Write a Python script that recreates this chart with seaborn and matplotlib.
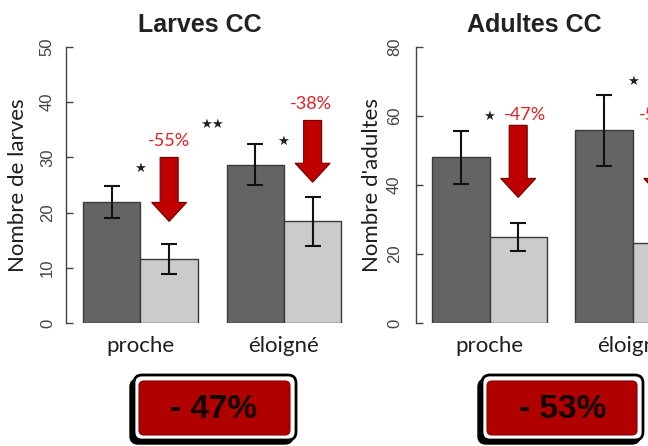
import matplotlib
matplotlib.use("Agg")
import matplotlib.pyplot as plt
import seaborn as sns
import pandas as pd
from matplotlib.patches import Polygon, FancyBboxPatch
from matplotlib.transforms import IdentityTransform

# ---------------- data ----------------
sites = ["proche", "éloigné"]
groups = ["témoin", "traité"]

larves_temoin = [22.0, 28.7]
larves_temoin_lo = [19.0, 25.0]
larves_temoin_hi = [24.9, 32.4]
larves_traite = [11.6, 18.5]
larves_traite_lo = [8.9, 14.0]
larves_traite_hi = [14.4, 22.8]

adultes_temoin = [48.0, 55.9]
adultes_temoin_lo = [40.4, 45.4]
adultes_temoin_hi = [55.6, 66.0]
adultes_traite = [25.0, 23.2]
adultes_traite_lo = [21.0, 18.5]
adultes_traite_hi = [29.0, 28.0]

larves_pct = ["-55%", "-38%"]
adultes_pct = ["-47%", "-58%"]
larves_arrow_top = [30.0, 36.7]
larves_arrow_tip = [18.4, 25.5]
adultes_arrow_top = [57.3, 57.3]
adultes_arrow_tip = [36.4, 36.4]
badges = ["- 47%", "- 53%"]

# ---------------- style ----------------
sns.set_theme(style="white")
plt.rcParams["font.family"] = ["Liberation Sans", "DejaVu Sans"]

DARK = "#646464"
LIGHT = "#cbcbcb"
EDGE = "#3a3a3a"
RED_TXT = "#e31e24"
ARROW_RED = "#c00000"
BOX_RED = "#b00000"

W, H = 648, 446
fig = plt.figure(figsize=(W / 100, H / 100), dpi=100)
fig.patch.set_facecolor("white")


def fx(px):
    return px / W


def fy(py):
    return 1 - py / H


ax1 = fig.add_axes([fx(66), fy(323), fx(360) - fx(66), fy(47) - fy(323)])
ax2 = fig.add_axes([fx(416), fy(323), fx(720) - fx(416), fy(47) - fy(323)])


def panel(ax, tem, tem_lo, tem_hi, tra, tra_lo, tra_hi, ymax, step,
          ylabel, title, title_x, label_x, xlim, tick_pad):
    df = pd.DataFrame({
        "site": sites * 2,
        "groupe": [groups[0]] * 2 + [groups[1]] * 2,
        "valeur": tem + tra,
    })
    sns.barplot(data=df, x="site", y="valeur", hue="groupe", order=sites,
                hue_order=groups, palette=[DARK, LIGHT], errorbar=None,
                width=0.8, edgecolor=EDGE, linewidth=1.0, legend=False, ax=ax)
    for cont, vals, lo, hi in zip(ax.containers, [tem, tra], [tem_lo, tra_lo], [tem_hi, tra_hi]):
        for bar, v, l, h in zip(cont.patches, vals, lo, hi):
            xc = bar.get_x() + bar.get_width() / 2
            ax.errorbar(xc, v, yerr=[[v - l], [h - v]], fmt="none", ecolor="#111111",
                        elinewidth=1.5, capsize=6, capthick=1.5, zorder=5)
    ax.set_xlim(*xlim)
    ax.set_ylim(0, ymax)
    ax.set_yticks(list(range(0, ymax + 1, step)))
    for s in ["top", "right", "bottom"]:
        ax.spines[s].set_visible(False)
    ax.spines["left"].set_bounds(0, ymax)
    ax.spines["left"].set_color("#444444")
    ax.spines["left"].set_linewidth(1.0)
    ax.tick_params(axis="y", direction="in", length=5, width=1, color="#444444",
                   labelsize=12, labelcolor="#444444", pad=tick_pad, left=True)
    for lab in ax.get_yticklabels():
        lab.set_rotation(90)
        lab.set_va("center")
    ax.tick_params(axis="x", length=0, pad=9, labelsize=16, labelcolor="#1e1e1e")
    for lab in ax.get_xticklabels():
        lab.set_fontfamily(["Lato", "DejaVu Sans"])
    ax.set_xlabel("")
    ax.set_ylabel(ylabel, fontsize=16, color="#1e1e1e", family=["Lato", "DejaVu Sans"], va="center")
    ax.yaxis.set_label_coords(label_x, 0.5)
    ax.set_title(title, fontsize=18, fontweight="bold", color="#222222", x=title_x, pad=11)
    ax.patch.set_visible(False)


panel(ax1, larves_temoin, larves_temoin_lo, larves_temoin_hi,
      larves_traite, larves_traite_lo, larves_traite_hi, 50, 10,
      "Nombre de larves", "Larves CC", 0.456, -0.163, (-0.519, 1.53), 8)
panel(ax2, adultes_temoin, adultes_temoin_lo, adultes_temoin_hi,
      adultes_traite, adultes_traite_lo, adultes_traite_hi, 80, 20,
      "Nombre d'adultes", "Adultes CC", 0.388, -0.145, (-0.514, 1.61), 10)


def down_arrow(ax, x, y_top, y_tip, shaft=18, head=35, head_len=19):
    t = ax.transData
    cx, ty = t.transform((x, y_top))
    _, py = t.transform((x, y_tip))
    hs = py + head_len
    pts = [(cx - shaft / 2, ty), (cx + shaft / 2, ty), (cx + shaft / 2, hs),
           (cx + head / 2, hs), (cx, py), (cx - head / 2, hs), (cx - shaft / 2, hs)]
    pts = fig.transFigure.inverted().transform(pts)
    fig.add_artist(Polygon(pts, closed=True, transform=fig.transFigure,
                           facecolor=ARROW_RED, edgecolor="#700000", linewidth=0.8, zorder=6))


STAR = dict(fontsize=9.5, color="#222222", ha="center", va="center",
            family=["DejaVu Sans"], clip_on=False, zorder=7)
PCT = dict(fontsize=13, color=RED_TXT, ha="center", va="center",
           family=["Lato", "DejaVu Sans"], clip_on=False, zorder=7)

# larves annotations
tr1 = [p.get_x() + p.get_width() / 2 for p in ax1.containers[1].patches]
for i in range(2):
    down_arrow(ax1, tr1[i], larves_arrow_top[i], larves_arrow_tip[i])
ax1.text(tr1[0], 32.9, larves_pct[0], **PCT)
ax1.text(tr1[1] - 0.01, 39.6, larves_pct[1], **PCT)
ax1.text(0.0, 28.0, "★", **STAR)
ax1.text(0.5, 36.0, "★★", **STAR)
ax1.text(0.995, 32.9, "★", **STAR)

# adultes annotations
tr2 = [p.get_x() + p.get_width() / 2 for p in ax2.containers[1].patches]
for i in range(2):
    down_arrow(ax2, tr2[i], adultes_arrow_top[i], adultes_arrow_tip[i])
ax2.text(tr2[0] + 0.045, 60.2, adultes_pct[0], **PCT)
ax2.text(tr2[1] - 0.01, 60.2, adultes_pct[1], **PCT)
ax2.text(0.0, 60.0, "★", **STAR)
ax2.text(1.0, 70.1, "★", **STAR)


# bottom badges (pixel coordinates, y measured from top)
def badge(x0, x1, text, tcx, tcy):
    ident = IdentityTransform()
    y0, y1 = 375, 440
    fig.add_artist(FancyBboxPatch((x0 - 4, H - (y1 + 4)), (x1 - 3) - (x0 - 4), (y1 - y0),
                                  boxstyle="round,pad=0,rounding_size=8", transform=ident,
                                  facecolor="black", edgecolor="black", linewidth=1, zorder=8))
    fig.add_artist(FancyBboxPatch((x0, H - y1), x1 - x0, y1 - y0,
                                  boxstyle="round,pad=0,rounding_size=8", transform=ident,
                                  facecolor="white", edgecolor="black", linewidth=2, zorder=9))
    fig.add_artist(FancyBboxPatch((x0 + 5, H - 435), (x1 - 6) - (x0 + 5), 435 - 381,
                                  boxstyle="round,pad=0,rounding_size=5", transform=ident,
                                  facecolor=BOX_RED, edgecolor="#8a0000", linewidth=0.8, zorder=10))
    fig.text(fx(tcx), fy(tcy), text, fontsize=24, fontweight="bold", color="#150000",
             family=["Liberation Sans Narrow", "Liberation Sans", "DejaVu Sans"],
             ha="center", va="center", zorder=11)


badge(134, 296, badges[0], 214, 409)
badge(482, 643, badges[1], 563, 410)

fig.savefig("out.png", dpi=100, facecolor="white")
